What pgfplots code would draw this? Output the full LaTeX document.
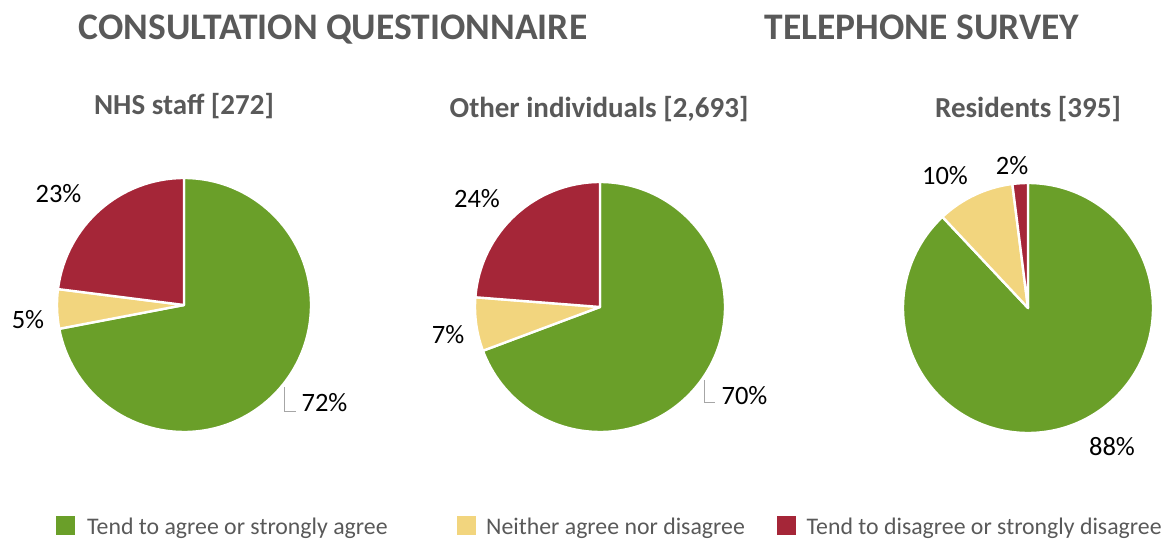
\documentclass[border=0pt]{standalone}
\usepackage{pgfplots}
\pgfplotsset{compat=1.18}
\usepackage{pgfplotstable}
\usepackage{fontspec}
\setmainfont{Carlito}
\definecolor{agree}{HTML}{6A9F29}
\definecolor{neither}{HTML}{F2D57E}
\definecolor{disagree}{HTML}{A52638}
\definecolor{titlegray}{HTML}{595959}
\definecolor{leader}{HTML}{A6A6A6}

% cx cy r: pie centre and radius (layout); start pct tot: values in %
\pgfplotstableread{
cx  cy  r   start pct tot cls
184 234 127 0     72  100 0
184 234 127 72    5   100 1
184 234 127 77    23  100 2
}\nhs
\pgfplotstableread{
cx  cy  r   start pct tot cls
600 232 125 0     70  101 0
600 232 125 70    7   101 1
600 232 125 77    24  101 2
}\others
\pgfplotstableread{
cx   cy  r   start pct tot cls
1028 231 125 0     88  100 0
1028 231 125 88    10  100 1
1028 231 125 98    2   100 2
}\residents

\pgfplotsset{
  pie/.style={
    only marks, scatter, mark=*, mark size=0pt,
    mark options={draw opacity=0, fill opacity=0},
    visualization depends on={\thisrow{start}\as\pieSt},
    visualization depends on={\thisrow{pct}\as\piePc},
    visualization depends on={\thisrow{tot}\as\pieTot},
    visualization depends on={\thisrow{r}\as\pieR},
    visualization depends on={\thisrow{cls}\as\pieCl},
    scatter/@pre marker code/.code={%
      \pgfkeys{/pgf/fpu=true,/pgf/fpu/output format=fixed}%
      \pgfmathsetmacro\aA{90-360*\pieSt/\pieTot}%
      \pgfmathsetmacro\aB{90-360*(\pieSt+\piePc)/\pieTot}%
      \pgfmathsetmacro\pieRR{\pieR}%
      \pgfmathsetmacro\pieCx{\pieCl}%
      \pgfkeys{/pgf/fpu=false}%
      \ifdim\pieCx pt<0.5pt \def\slicecol{agree}\else
        \ifdim\pieCx pt<1.5pt \def\slicecol{neither}\else\def\slicecol{disagree}\fi\fi
      \path[fill=\slicecol, draw=white, fill opacity=1, draw opacity=1, line width=2.4pt, line join=round]
        (0pt,0pt) -- (\aA:\pieRR pt) arc[start angle=\aA, end angle=\aB, radius=\pieRR pt] -- cycle;
    },
    scatter/@post marker code/.code={},
  }
}

\begin{document}
\begin{tikzpicture}[x=1pt,y=1pt]
\useasboundingbox (0,0) rectangle (1168,539);
\begin{axis}[
  at={(0,0)}, anchor=south west,
  scale only axis, width=1168pt, height=539pt,
  xmin=0, xmax=1168, ymin=0, ymax=539,
  hide axis, clip=false,
]
\addplot[pie] table[x=cx, y=cy] {\nhs};
\addplot[pie] table[x=cx, y=cy] {\others};
\addplot[pie] table[x=cx, y=cy] {\residents};

% percentage labels
\begin{scope}[every node/.style={font=\fontsize{26.5}{30}\selectfont, text=black, anchor=base, inner sep=0pt}]
\node at (axis cs:58.5,336) {23\%};
\node at (axis cs:28,211) {5\%};
\node at (axis cs:324.5,128) {72\%};
\node at (axis cs:477,331) {24\%};
\node at (axis cs:448,196) {7\%};
\node at (axis cs:744.5,135) {70\%};
\node at (axis cs:945,354) {10\%};
\node at (axis cs:1012,364) {2\%};
\node at (axis cs:1112,84) {88\%};
\end{scope}
\draw[leader, line width=1pt] (axis cs:284,152) -- (axis cs:284,128) -- (axis cs:296,128);
\draw[leader, line width=1pt] (axis cs:704,159) -- (axis cs:704,137) -- (axis cs:715,137);

% titles
\begin{scope}[every node/.style={text=titlegray, anchor=base, inner sep=0pt}]
\node[font=\fontsize{37.5}{42}\selectfont\bfseries] at (axis cs:333,499) {CONSULTATION QUESTIONNAIRE};
\node[font=\fontsize{37.5}{42}\selectfont\bfseries] at (axis cs:922,499) {TELEPHONE SURVEY};
\node[font=\fontsize{29}{33}\selectfont\bfseries] at (axis cs:184,424) {NHS staff [272]};
\node[font=\fontsize{29}{33}\selectfont\bfseries] at (axis cs:599,421.5) {Other individuals [2,693]};
\node[font=\fontsize{29}{33}\selectfont\bfseries] at (axis cs:1028,421.5) {Residents [395]};
\end{scope}

% legend
\fill[agree] (axis cs:56,4) rectangle (axis cs:75,23);
\fill[neither] (axis cs:457,4) rectangle (axis cs:476,23);
\fill[disagree] (axis cs:777,4) rectangle (axis cs:796,23);
\begin{scope}[every node/.style={text=titlegray, anchor=base west, inner sep=0pt, font=\fontsize{23.8}{28}\selectfont}]
\node at (axis cs:87,5) {Tend to agree or strongly agree};
\node at (axis cs:486,5) {Neither agree nor disagree};
\node at (axis cs:806.5,5) {Tend to disagree or strongly disagree};
\end{scope}
\end{axis}
\end{tikzpicture}
\end{document}
